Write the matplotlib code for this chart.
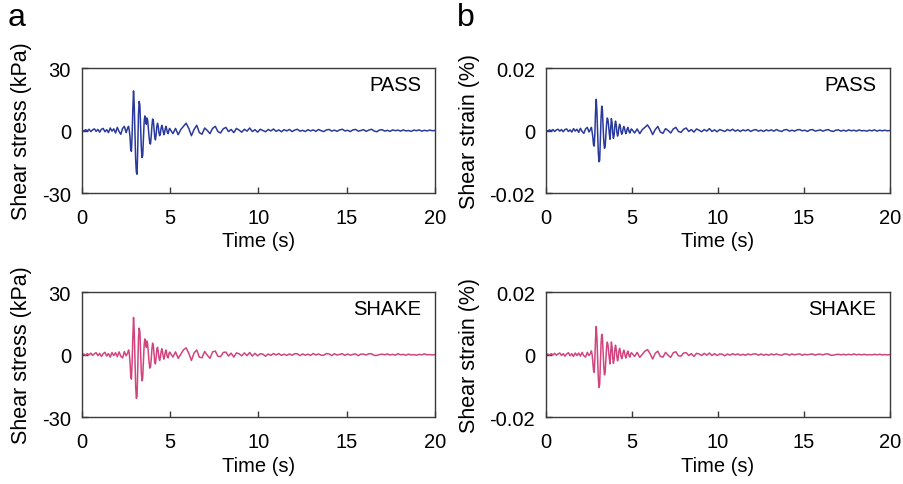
import numpy as np
import matplotlib
matplotlib.use("Agg")
import matplotlib.pyplot as plt

plt.rcParams['font.family'] = ['Liberation Sans', 'DejaVu Sans']

# time grids (s): quiet start, strong motion, coda
t_pre = np.round(np.arange(0.0, 2.55, 0.1), 2)        # 26 samples
t_main = np.round(2.60 + 0.04 * np.arange(60), 2)     # 60 samples
t_tail = np.round(5.00 + 0.15 * np.arange(101), 2)    # 101 samples

# shear stress (kPa), PASS
stress_pass_pre = [0.0, -0.3, 0.4, -0.2, 0.6, -0.5, 0.3, 0.8, -0.4, 0.5,
                   -0.8, 0.6, 1.0, -0.6, 0.4, -1.0, 1.2, -0.3, 0.8, -1.2,
                   1.5, -0.5, -1.8, 1.0, 2.0, -1.0]
stress_pass_main = [1.5, 2.0, 0.0, -3.0, -9.0, -10.0, -2.0, 10.0, 19.0, 12.0,
                    -2.0, -14.0, -20.0, -21.0, -8.0, 8.0, 14.0, 12.0, 2.0, -8.0,
                    -13.0, -12.0, -4.0, 4.0, 7.0, 6.0, 3.0, 6.0, 5.0, 1.0,
                    -3.0, -6.0, -6.5, -3.0, 2.0, 5.5, 5.0, 1.0, -3.0, -4.5,
                    -2.0, 2.0, 3.5, 2.0, -1.0, -2.5, -1.5, 1.0, 2.5, 1.5,
                    -0.5, -2.0, -1.0, 1.0, 2.0, 0.5, -1.0, -1.5, 0.0, 1.0]
stress_pass_tail = [0.5, -1.5, 1.0, -2.0, 0.5, 2.0, 3.5, 1.0, -2.5, 0.5,
                    2.5, -1.0, -1.8, 1.2, 0.0, -1.5, 1.0, 2.0, -0.5, -1.2,
                    0.8, 1.5, -0.5, 0.5, -1.0, 1.0, 0.2, -0.8, 0.6, -0.3,
                    1.2, -0.5, 0.4, -0.8, 0.6, 0.0, -0.6, 0.5, -0.2, 0.7,
                    -0.4, 0.3, -0.6, 0.4, -0.2, 0.5, -0.5, 0.2, 0.6, -0.3,
                    0.1, -0.5, 0.4, -0.2, 0.3, -0.4, 0.5, -0.1, -0.5, 0.3,
                    0.5, -0.3, 0.2, -0.4, 0.3, 0.6, -0.2, 0.1, -0.5, 0.3,
                    0.5, -0.3, 0.0, 0.4, -0.4, 0.2, 0.6, -0.2, -0.6, 0.2,
                    0.4, -0.3, 0.1, -0.4, 0.3, -0.1, 0.2, -0.3, 0.3, -0.2,
                    0.0, -0.4, 0.2, -0.1, 0.3, -0.3, 0.1, -0.2, 0.2, -0.1,
                    0.0]

# shear stress (kPa), SHAKE
stress_shake_pre = [0.0, 0.3, -0.4, 0.5, -0.2, 0.7, -0.4, 0.4, 0.9, -0.5,
                    0.6, -0.9, 0.4, 1.1, -0.7, 0.5, -1.2, 1.0, -0.5, 0.9,
                    -1.0, 1.3, -0.8, -1.6, 1.4, -0.6]
stress_shake_main = [1.0, 2.2, 0.5, -3.5, -10.0, -11.8, -4.0, 8.0, 17.8, 11.0,
                     -3.0, -15.0, -21.0, -20.0, -7.0, 7.5, 12.7, 11.0, 1.0, -8.5,
                     -12.6, -11.0, -3.0, 4.5, 7.5, 6.5, 3.5, 6.5, 5.0, 0.5,
                     -3.5, -6.5, -6.0, -2.5, 2.5, 5.5, 4.5, 0.5, -3.5, -4.5,
                     -1.5, 2.5, 3.5, 1.5, -1.5, -2.8, -1.2, 1.2, 2.8, 1.5,
                     -0.8, -2.2, -0.8, 1.2, 2.2, 0.3, -1.2, -1.6, 0.2, 1.2]
stress_shake_tail = [0.8, -1.2, 1.3, -1.8, 0.2, 2.3, 3.2, 0.6, -2.8, 0.8,
                     2.2, -1.3, -1.5, 1.5, -0.3, -1.8, 1.3, 1.7, -0.8, -1.0,
                     1.0, 1.2, -0.7, 0.7, -1.2, 0.8, 0.4, -0.6, 0.8, -0.5,
                     1.0, -0.7, 0.6, -0.6, 0.4, 0.2, -0.8, 0.3, -0.4, 0.5,
                     -0.2, 0.5, -0.4, 0.2, -0.4, 0.3, -0.3, 0.4, 0.4, -0.5,
                     0.3, -0.3, 0.2, -0.4, 0.5, -0.2, 0.3, -0.3, -0.3, 0.5,
                     0.3, -0.5, 0.4, -0.2, 0.1, 0.4, -0.4, 0.3, -0.3, 0.1,
                     0.3, -0.5, 0.2, 0.2, -0.2, 0.4, 0.4, -0.4, -0.4, 0.0,
                     0.2, -0.1, 0.3, -0.2, 0.1, -0.3, 0.4, -0.1, 0.1, -0.3,
                     0.2, -0.2, 0.0, -0.3, 0.1, -0.1, 0.3, -0.1, 0.0, -0.2,
                     0.0]

# shear strain in units of 0.001 %, PASS
strain_pass_pre = [0.0, -0.2, 0.2, -0.1, 0.3, -0.3, 0.2, 0.4, -0.2, 0.3,
                   -0.4, 0.3, 0.5, -0.3, 0.2, -0.5, 0.6, -0.2, 0.4, -0.6,
                   0.7, -0.3, -0.9, 0.5, 1.0, -0.5]
strain_pass_main = [0.5, 1.0, -0.5, -2.0, -4.5, -5.0, -1.0, 6.0, 10.0, 6.0,
                    -1.0, -7.0, -10.0, -9.5, -3.0, 4.0, 7.8, 6.5, 1.0, -3.5,
                    -5.7, -5.0, -1.5, 2.0, 4.0, 3.5, 1.5, -1.0, -2.8, 0.5,
                    3.8, 2.5, -1.0, -2.5, -1.5, 1.5, 3.0, 2.0, -0.5, -1.8,
                    -1.0, 1.0, 2.0, 1.2, -0.3, -1.2, -0.8, 0.5, 1.3, 0.8,
                    -0.2, -1.0, -0.5, 0.5, 1.0, 0.3, -0.5, -0.8, 0.0, 0.5]
strain_pass_tail = [0.3, -0.8, 0.5, -1.0, 0.3, 1.0, 1.8, 0.5, -1.3, 0.3,
                    1.3, -0.5, -0.9, 0.6, 0.0, -0.8, 0.5, 1.0, -0.3, -0.6,
                    0.4, 0.8, -0.3, 0.3, -0.5, 0.5, 0.1, -0.4, 0.3, -0.2,
                    0.6, -0.3, 0.2, -0.4, 0.3, 0.0, -0.3, 0.3, -0.1, 0.4,
                    -0.2, 0.2, -0.3, 0.2, -0.1, 0.3, -0.3, 0.1, 0.3, -0.2,
                    0.1, -0.3, 0.2, -0.1, 0.2, -0.2, 0.3, -0.1, -0.3, 0.2,
                    0.3, -0.2, 0.1, -0.2, 0.2, 0.3, -0.1, 0.1, -0.3, 0.2,
                    0.3, -0.2, 0.0, 0.2, -0.2, 0.1, 0.3, -0.1, -0.3, 0.1,
                    0.2, -0.2, 0.1, -0.2, 0.2, -0.1, 0.1, -0.2, 0.2, -0.1,
                    0.0, -0.2, 0.1, -0.1, 0.2, -0.2, 0.1, -0.1, 0.1, -0.1,
                    0.0]

# shear strain in units of 0.001 %, SHAKE
strain_shake_pre = [0.0, 0.2, -0.2, 0.3, -0.1, 0.4, -0.2, 0.2, 0.5, -0.3,
                    0.3, -0.5, 0.2, 0.6, -0.4, 0.3, -0.6, 0.5, -0.3, 0.5,
                    -0.5, 0.7, -0.4, -0.8, 0.7, -0.3]
strain_shake_main = [0.5, 1.2, 0.0, -2.2, -5.0, -5.7, -1.5, 5.0, 9.0, 5.5,
                     -1.5, -7.5, -10.5, -9.5, -3.0, 3.5, 6.5, 5.5, 0.5, -4.0,
                     -6.5, -5.5, -1.5, 2.2, 4.0, 3.3, 1.0, -1.2, -3.0, 0.8,
                     4.0, 2.5, -1.2, -2.8, -1.5, 1.6, 3.0, 1.8, -0.6, -2.0,
                     -1.0, 1.2, 2.0, 1.0, -0.5, -1.3, -0.7, 0.6, 1.4, 0.7,
                     -0.3, -1.1, -0.4, 0.6, 1.1, 0.2, -0.6, -0.8, 0.1, 0.6]
strain_shake_tail = [0.4, -0.6, 0.7, -0.9, 0.1, 1.1, 1.6, 0.3, -1.4, 0.4,
                     1.1, -0.6, -0.8, 0.7, -0.2, -0.9, 0.6, 0.9, -0.4, -0.5,
                     0.5, 0.6, -0.3, 0.3, -0.6, 0.4, 0.2, -0.3, 0.4, -0.2,
                     0.5, -0.3, 0.3, -0.3, 0.2, 0.1, -0.4, 0.2, -0.2, 0.3,
                     -0.1, 0.2, -0.2, 0.1, -0.2, 0.2, -0.1, 0.2, 0.2, -0.2,
                     0.2, -0.2, 0.1, -0.2, 0.2, -0.1, 0.2, -0.1, -0.2, 0.2,
                     0.2, -0.2, 0.2, -0.1, 0.1, 0.2, -0.2, 0.1, -0.1, 0.1,
                     0.2, -0.2, 0.1, 0.1, -0.1, 0.2, 0.2, -0.2, -0.2, 0.0,
                     0.1, -0.1, 0.1, -0.1, 0.1, -0.1, 0.2, -0.1, 0.1, -0.1,
                     0.1, -0.1, 0.0, -0.1, 0.1, -0.1, 0.1, -0.1, 0.0, -0.1,
                     0.0]

t = np.concatenate([t_pre, t_main, t_tail])
stress_pass = np.concatenate([stress_pass_pre, stress_pass_main, stress_pass_tail])
stress_shake = np.concatenate([stress_shake_pre, stress_shake_main, stress_shake_tail])
strain_pass = np.concatenate([strain_pass_pre, strain_pass_main, strain_pass_tail]) / 1000.0
strain_shake = np.concatenate([strain_shake_pre, strain_shake_main, strain_shake_tail]) / 1000.0

blue = '#2a3a9c'
pink = '#d2447e'
spine_c = '#3a3a3a'

fig = plt.figure(figsize=(9.04, 4.85), dpi=100)

panels = [
    ([0.0907, 0.600, 0.3905, 0.2577], stress_pass, blue, 'PASS', 'stress'),
    ([0.0907, 0.138, 0.3905, 0.2577], stress_shake, pink, 'SHAKE', 'stress'),
    ([0.604, 0.600, 0.3805, 0.2577], strain_pass, blue, 'PASS', 'strain'),
    ([0.604, 0.138, 0.3805, 0.2577], strain_shake, pink, 'SHAKE', 'strain'),
]

for rect, y, col, name, kind in panels:
    ax = fig.add_axes(rect)
    ax.plot(t, y, color=col, lw=1.1)
    ax.set_xlim(0, 20)
    ax.set_xticks([0, 5, 10, 15, 20])
    if kind == 'stress':
        ax.set_ylim(-30, 30)
        ax.set_yticks([-30, 0, 30])
        ax.set_yticklabels(['-30', '0', '30'])
        ax.set_ylabel('Shear stress (kPa)', fontsize=15.5, labelpad=7)
    else:
        ax.set_ylim(-0.02, 0.02)
        ax.set_yticks([-0.02, 0, 0.02])
        ax.set_yticklabels(['-0.02', '0', '0.02'])
        ax.set_ylabel('Shear strain (%)', fontsize=15.5, labelpad=7)
    ax.set_xlabel('Time (s)', fontsize=14.5, labelpad=3)
    ax.tick_params(direction='in', length=4, width=1, color=spine_c,
                   labelsize=14.5, pad=8, top=False, right=False)
    ax.tick_params(axis='x', pad=11)
    for s in ax.spines.values():
        s.set_color(spine_c)
        s.set_linewidth(1.0)
    ax.text(0.96, 0.87, name, transform=ax.transAxes, ha='right', va='center',
            fontsize=14.5)

fig.text(0.008, 0.962, 'a', fontsize=23, va='center', ha='left')
fig.text(0.505, 0.962, 'b', fontsize=23, va='center', ha='left')

fig.savefig('out.png', dpi=100)
